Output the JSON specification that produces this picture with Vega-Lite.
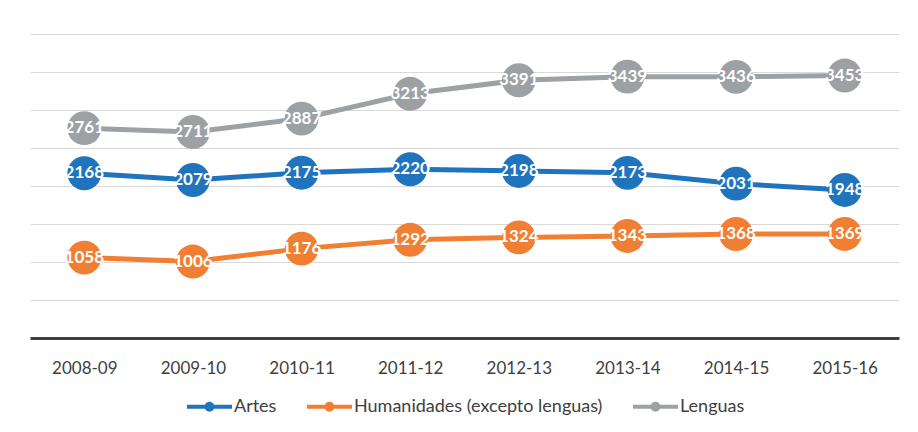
{
  "$schema": "https://vega.github.io/schema/vega-lite/v6.json",
  "width": 869,
  "height": 304,
  "autosize": "none",
  "padding": {"left": 30, "top": 34, "right": 19, "bottom": 94},
  "background": "white",
  "config": {
    "view": {"stroke": null},
    "font": "Lato"
  },
  "data": {
    "values": [
      {"year": "2008-09", "serie": "Artes", "value": 2168},
      {"year": "2009-10", "serie": "Artes", "value": 2079},
      {"year": "2010-11", "serie": "Artes", "value": 2175},
      {"year": "2011-12", "serie": "Artes", "value": 2220},
      {"year": "2012-13", "serie": "Artes", "value": 2198},
      {"year": "2013-14", "serie": "Artes", "value": 2173},
      {"year": "2014-15", "serie": "Artes", "value": 2031},
      {"year": "2015-16", "serie": "Artes", "value": 1948},
      {"year": "2008-09", "serie": "Humanidades (excepto lenguas)", "value": 1058},
      {"year": "2009-10", "serie": "Humanidades (excepto lenguas)", "value": 1006},
      {"year": "2010-11", "serie": "Humanidades (excepto lenguas)", "value": 1176},
      {"year": "2011-12", "serie": "Humanidades (excepto lenguas)", "value": 1292},
      {"year": "2012-13", "serie": "Humanidades (excepto lenguas)", "value": 1324},
      {"year": "2013-14", "serie": "Humanidades (excepto lenguas)", "value": 1343},
      {"year": "2014-15", "serie": "Humanidades (excepto lenguas)", "value": 1368},
      {"year": "2015-16", "serie": "Humanidades (excepto lenguas)", "value": 1369},
      {"year": "2008-09", "serie": "Lenguas", "value": 2761},
      {"year": "2009-10", "serie": "Lenguas", "value": 2711},
      {"year": "2010-11", "serie": "Lenguas", "value": 2887},
      {"year": "2011-12", "serie": "Lenguas", "value": 3213},
      {"year": "2012-13", "serie": "Lenguas", "value": 3391},
      {"year": "2013-14", "serie": "Lenguas", "value": 3439},
      {"year": "2014-15", "serie": "Lenguas", "value": 3436},
      {"year": "2015-16", "serie": "Lenguas", "value": 3453}
    ]
  },
  "encoding": {
    "x": {
      "field": "year", "type": "ordinal", "title": null,
      "scale": {"type": "point", "padding": 0.5},
      "axis": {
        "labelAngle": 0, "labelFontSize": 17, "labelColor": "#404040",
        "ticks": false, "domainColor": "#404040", "domainWidth": 3,
        "labelPadding": 22, "grid": false
      }
    },
    "y": {
      "field": "value", "type": "quantitative", "title": null,
      "scale": {"domain": [0, 4000], "nice": false},
      "axis": {
        "labels": false, "ticks": false, "domain": false,
        "values": [500, 1000, 1500, 2000, 2500, 3000, 3500, 4000],
        "gridColor": "#D9D9D9", "gridWidth": 1.2
      }
    },
    "color": {
      "field": "serie", "type": "nominal", "title": null,
      "scale": {
        "domain": ["Artes", "Humanidades (excepto lenguas)", "Lenguas"],
        "range": ["#2074BD", "#F07F34", "#9EA1A4"]
      },
      "legend": {
        "orient": "none", "direction": "horizontal",
        "legendX": 157, "legendY": 350,
        "labelFontSize": 18, "labelColor": "#404040", "labelLimit": 0,
        "symbolType": "M-1,-0.09H1V0.09H-1Z M0.22,0A0.22,0.22 0 1,1 -0.22,0A0.22,0.22 0 1,1 0.22,0Z",
        "symbolSize": 2025, "symbolStrokeWidth": 0, "symbolOpacity": 1,
        "labelOffset": 2, "columnPadding": 30
      }
    }
  },
  "layer": [
    {"mark": {"type": "line", "strokeWidth": 5}},
    {"mark": {"type": "circle", "size": 1150, "opacity": 1}},
    {
      "mark": {"type": "text", "color": "white", "fontWeight": "bold", "fontSize": 17, "baseline": "middle"},
      "encoding": {"text": {"field": "value", "type": "quantitative", "format": "d"}, "color": {"value": "white"}}
    }
  ]
}
